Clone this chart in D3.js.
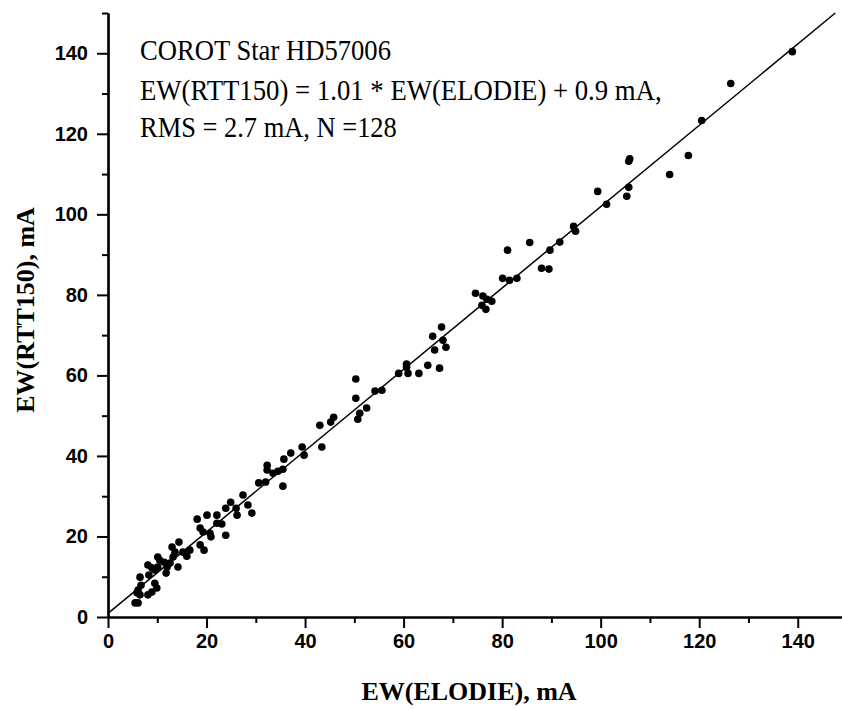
<!DOCTYPE html>
<html>
<head>
<meta charset="utf-8">
<script src="https://d3js.org/d3.v7.min.js"></script>
<style>
  body { margin: 0; background: #fff; }
  svg { display: block; }
</style>
</head>
<body>
<svg id="drawing_region"></svg>
<script>
// EW(ELODIE) values, mA
const ewElodie = [
  138.9, 126.4, 120.5, 117.8, 114.0, 105.7, 105.9, 105.7, 105.3, 99.4, 101.2, 94.5, 94.9, 91.7, 89.7, 88.0, 89.5,
  85.6, 81.1, 80.1, 81.5, 83.0, 74.6, 76.1, 76.9, 77.9, 75.9, 76.7, 67.7, 65.9, 68.0, 68.6, 66.3, 67.3, 64.9,
  63.1, 60.6, 60.6, 60.9, 59.0, 55.6, 54.2, 50.3, 50.3, 52.5, 51.1, 50.7, 45.8, 45.2, 43.0, 43.4, 39.4, 39.8,
  37.1, 35.7, 35.5, 35.5, 34.5, 33.5, 32.3, 32.0, 32.3, 30.6, 27.4, 28.4, 29.2, 26.2, 26.0, 24.9, 23.9, 23.1,
  23.9, 22.1, 22.1, 20.7, 20.9, 20.1, 19.3, 19.5, 18.7, 18.7, 18.1, 16.6, 16.0, 15.2, 14.4, 14.2, 13.6, 13.0,
  13.2, 12.6, 12.0, 11.8, 11.4, 10.5, 10.1, 10.1, 9.5, 8.9, 8.1, 8.3, 9.5, 9.9, 8.9, 8.1, 6.5, 6.1, 5.9, 6.5,
  5.5, 6.1, 6.7
];
// EW(RTT150) values, mA
const ewRtt = [
  140.4, 132.5, 123.3, 114.6, 109.9, 113.2, 113.8, 106.7, 104.5, 105.7, 102.5, 97.0, 95.8, 93.1, 91.1, 86.6, 86.4,
  93.0, 91.1, 84.1, 83.6, 84.1, 80.4, 79.7, 78.9, 78.4, 77.4, 76.4, 72.0, 69.7, 68.7, 67.0, 66.3, 61.8, 62.5,
  60.5, 62.8, 62.0, 60.5, 60.5, 56.3, 56.1, 59.1, 54.3, 51.9, 50.6, 49.1, 49.6, 48.4, 47.6, 42.2, 42.2, 40.2,
  40.7, 39.2, 36.7, 32.5, 36.2, 35.7, 36.5, 33.5, 37.7, 33.3, 30.3, 27.8, 25.8, 25.3, 27.0, 28.5, 27.0, 23.1,
  20.3, 25.3, 23.3, 20.8, 19.9, 25.3, 21.1, 16.6, 22.1, 17.9, 24.3, 16.6, 15.1, 16.1, 18.6, 12.4, 16.1, 17.4,
  14.9, 13.4, 12.4, 10.9, 13.6, 14.1, 14.9, 12.4, 11.7, 12.2, 12.9, 10.4, 8.4, 7.2, 6.2, 5.5, 9.9, 6.7, 6.0, 5.5,
  3.5, 3.5, 7.9
];

const xMajorTicks = [0, 20, 40, 60, 80, 100, 120, 140];
const xMinorTicks = [10, 30, 50, 70, 90, 110, 130, 150];
const yMajorTicks = [0, 20, 40, 60, 80, 100, 120, 140];
const yMinorTicks = [10, 30, 50, 70, 90, 110, 130, 150];

// fit: EW(RTT150) = 1.01 * EW(ELODIE) + 0.9
const fitSlope = 1.01;
const fitIntercept = 0.9;

const noteLines = [
  'COROT Star HD57006',
  'EW(RTT150) = 1.01 * EW(ELODIE) + 0.9 mA,',
  'RMS = 2.7 mA, N =128'
];

const config = {
  width: 842,
  height: 709,
  margin: {top: 13, right: -5, bottom: 92, left: 108}
};

const svg = d3.select('#drawing_region')
  .attr('width', config.width)
  .attr('height', config.height);

const inner_width = config.width - config.margin.left - config.margin.right;
const inner_height = config.height - config.margin.top - config.margin.bottom;

const chart = svg.append('g')
  .attr('transform', `translate(${config.margin.left}, ${config.margin.top})`);

const xscale = d3.scaleLinear().domain([0, 150]).range([0, inner_width]);
const yscale = d3.scaleLinear().domain([0, 150]).range([inner_height, 0]);

// axes
const xaxis = d3.axisBottom(xscale).tickValues(xMajorTicks).tickSize(11).tickPadding(6).tickSizeOuter(0);
const xaxisMinor = d3.axisBottom(xscale).tickValues(xMinorTicks).tickSize(6).tickFormat('').tickSizeOuter(0);
const yaxis = d3.axisLeft(yscale).tickValues(yMajorTicks).tickSize(11).tickPadding(9).tickSizeOuter(0);
const yaxisMinor = d3.axisLeft(yscale).tickValues(yMinorTicks).tickSize(6).tickFormat('').tickSizeOuter(0);

chart.append('g').attr('transform', `translate(0, ${inner_height})`).call(xaxis);
chart.append('g').attr('transform', `translate(0, ${inner_height})`).call(xaxisMinor);
chart.append('g').call(yaxis);
chart.append('g').call(yaxisMinor);

chart.selectAll('.domain').attr('stroke', '#000').attr('stroke-width', 2.2);
chart.selectAll('.tick line').attr('stroke', '#000').attr('stroke-width', 2);
chart.selectAll('.tick text')
  .attr('fill', '#000')
  .style('font-family', '"Liberation Sans", Arial, sans-serif')
  .style('font-weight', 'bold')
  .style('font-size', '20px');

// fit line
const xEnd = (150 - fitIntercept) / fitSlope;
chart.append('line')
  .attr('x1', xscale(0))
  .attr('y1', yscale(fitIntercept))
  .attr('x2', xscale(xEnd))
  .attr('y2', yscale(150))
  .attr('stroke', '#000')
  .attr('stroke-width', 1.5);

// points
chart.selectAll('circle')
  .data(ewElodie.map((d, i) => ({x: d, y: ewRtt[i]})))
  .join('circle')
  .attr('cx', d => xscale(d.x))
  .attr('cy', d => yscale(d.y))
  .attr('r', 3.8)
  .attr('fill', '#000');

// axis titles
svg.append('text')
  .attr('x', 469)
  .attr('y', 700)
  .attr('text-anchor', 'middle')
  .style('font-family', '"Liberation Serif", "Times New Roman", serif')
  .style('font-weight', 'bold')
  .style('font-size', '26px')
  .text('EW(ELODIE), mA');

svg.append('text')
  .attr('transform', 'translate(34, 310) rotate(-90)')
  .attr('text-anchor', 'middle')
  .style('font-family', '"Liberation Serif", "Times New Roman", serif')
  .style('font-weight', 'bold')
  .style('font-size', '26px')
  .text('EW(RTT150), mA');

// annotation: condensed serif text, squeezed to the widths seen in the original
const noteWidths = [251, 522, 257];
const noteBaselines = [60, 100, 137];
svg.append('g').selectAll('text')
  .data(noteLines)
  .join('text')
  .attr('x', 0)
  .attr('y', 0)
  .attr('font-family', '"Liberation Serif", "Times New Roman", serif')
  .attr('font-size', 30)
  .attr('fill', '#000')
  .text(d => d)
  .attr('transform', function(d, i) {
    const sx = noteWidths[i] / this.getComputedTextLength();
    return `translate(140, ${noteBaselines[i]}) scale(${sx}, 1)`;
  });
</script>
</body>
</html>
